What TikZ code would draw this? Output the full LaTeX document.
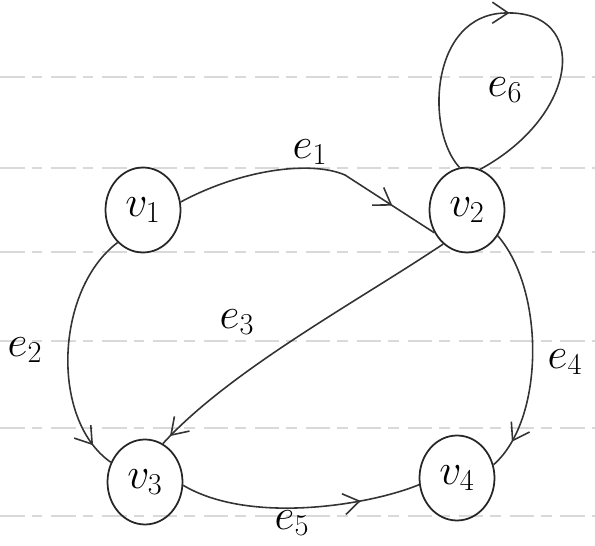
\documentclass[tikz,border=0pt]{standalone}
\usetikzlibrary{shapes.geometric,arrows.meta,decorations.markings}
\begin{document}
\begin{tikzpicture}[x=0.02cm,y=-0.02cm,
  vert/.style={draw=black!85,line width=1pt,ellipse,minimum width=1.5cm,minimum height=1.7cm,inner sep=0pt,font=\fontsize{26}{28}\selectfont},
  edge/.style={draw=black!80,line width=0.9pt},
  lab/.style={font=\fontsize{26}{28}\selectfont,inner sep=1pt},
  rule/.style={draw=black!15,line width=1.2pt,dash pattern=on 14pt off 4pt on 6pt off 5pt},
  midarrow/.style={postaction={decorate},decoration={markings,mark=at position #1 with {\arrow{Straight Barb[length=9pt,width=12pt,line width=0.9pt]}}}}
]
\useasboundingbox (0,0) rectangle (595,546);
% ruled lines
\foreach \yy in {77,168,252,341,428,516}
  \path[rule] (0,\yy) -- (595,\yy);
% vertices
\node[vert] (v1) at (143,210) {$v_1$};
\node[vert] (v2) at (467,210) {$v_2$};
\node[vert] (v3) at (145,482) {$v_3$};
\node[vert] (v4) at (457,478) {$v_4$};
% loop apex
\coordinate (top) at (505,13);
% edges
\path[edge,midarrow=0.82] (v1.12) .. controls (240,170) and (310,160) .. (345,175) -- (v2.215);
\path[edge,midarrow=0.9] (v1.232) .. controls (55,290) and (50,420) .. (v3.150);
\path[edge,midarrow=0.97] (v2.235) .. controls (360,300) and (230,370) .. (v3.65);
\path[edge,midarrow=0.88] (v2.-40) .. controls (545,290) and (545,420) .. (v4.20);
\path[edge,midarrow=0.75] (v3.-5) .. controls (250,525) and (370,505) .. (v4.190);
\path[edge] (v2.100) .. controls (425,130) and (430,15) .. (top);
\path[edge,midarrow=0.02] (top) .. controls (590,10) and (580,115) .. (v2.72);
% labels
\node[lab] (l1) at (310,152) {$e_1$};
\node[lab] (l2) at (25,350) {$e_2$};
\node[lab] (l3) at (237,322) {$e_3$};
\node[lab] (l4) at (565,362) {$e_4$};
\node[lab] (l5) at (292,523) {$e_5$};
\node[lab] (l6) at (505,90) {$e_6$};
\end{tikzpicture}
\end{document}
